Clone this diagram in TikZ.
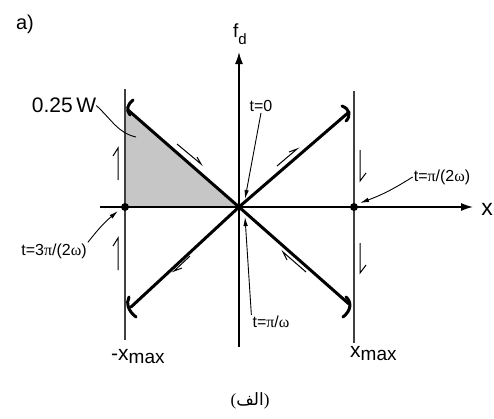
\documentclass[tikz,border=0pt]{standalone}
\usepackage{fontspec}
\setmainfont{Liberation Sans}
\newfontfamily\grk{Liberation Serif}
\newfontfamily\arabicfont[Script=Arabic]{DejaVu Sans}
\TeXXeTstate=1
\usetikzlibrary{arrows.meta}
\begin{document}
\begin{tikzpicture}[x=1pt,y=-1pt,
  axisline/.style={line width=1.5pt,-{Latex[length=12pt,width=8pt]}},
  sideline/.style={line width=1.2pt,draw=black!75},
  diagline/.style={line width=3pt,line cap=round},
  hookline/.style={line width=3pt,line cap=round},
  harp/.style={line width=1pt,line join=miter},
  lead/.style={line width=0.9pt,-{Latex[length=9pt,width=4.5pt]}},
  tlab/.style={font=\fontsize{16}{16}\selectfont, inner sep=1pt},
  biglab/.style={inner sep=0pt},
]
\useasboundingbox (0,0) rectangle (494,418);
\fill[white] (0,0) rectangle (494,418);

% key points
\coordinate (O) at (239,207);
\coordinate (UL) at (128,110);
\coordinate (UR) at (349,112);
\coordinate (LL) at (131,307);
\coordinate (LR) at (349,304);
\coordinate (P1) at (125,207);
\coordinate (P2) at (354,207);

% shaded work area
\fill[gray!45] (125,207) -- (125,110) -- (UL) -- (O) -- cycle;

% side lines and axes
\draw[sideline] (125,89) -- (125,340);
\draw[sideline] (354,91) -- (354,343);
\draw[axisline] (239,347) -- (239,52);
\draw[axisline] (100,207) -- (473,207);

% diagonals
\draw[diagline] (UL) -- (O) -- (LR);
\draw[diagline] (LL) -- (O) -- (UR);

% end hooks
\draw[hookline] (133,100) .. controls (127,105) and (126,110) .. (130,115);
\draw[hookline] (342,106) .. controls (350,109) and (351,116) .. (346,121);
\draw[hookline] (346,297) .. controls (352,302) and (351,311) .. (343,317);
\draw[hookline] (129,297) .. controls (126,303) and (128,311) .. (136,317);

% dots
\fill (P1) circle (4);
\fill (P2) circle (4);

% direction harpoons
\draw[harp] (177,144) -- (201,164) -- (197,157);
\draw[harp] (277,166) -- (297,149) -- (289,152);
\draw[harp] (190,256) -- (174,271) -- (182,268);
\draw[harp] (306,272) -- (283,252) -- (287,260);
\draw[harp] (118,180) -- (118,148) -- (113,156);
\draw[harp] (118,270) -- (118,238) -- (113,246);
\draw[harp] (360,150) -- (360,181) -- (366,173);
\draw[harp] (360,243) -- (360,273) -- (366,265);

% labels
\node[biglab] (alab) at (25,24) {\fontsize{20}{20}\selectfont a)};
\node[biglab,anchor=base west] (fdlab) at (233,37) {\fontsize{19}{19}\selectfont f\raisebox{-7pt}{\fontsize{15}{15}\selectfont d}};
\node[biglab] (xlab) at (487,209) {\fontsize{23}{23}\selectfont x};
\node[biglab] (wlab) at (64,105.5) {\fontsize{21}{21}\selectfont 0.25\,W};
\node[biglab,anchor=base west] (xminlab) at (111,360) {\fontsize{21}{21}\selectfont -x\raisebox{-3.5pt}{\fontsize{19}{19}\selectfont max}};
\node[biglab,anchor=base west] (xmaxlab) at (350,357) {\fontsize{21}{21}\selectfont x\raisebox{-3.5pt}{\fontsize{19}{19}\selectfont max}};

\node[tlab] (t0) at (261,106) {t=0};
\node[tlab] (tq) at (442,177) {t={\grk π}/(2{\grk ω})};
\node[tlab] (t3q) at (54,251) {t=3{\grk π}/(2{\grk ω})};
\node[tlab] (th) at (271,322) {t={\grk π}/{\grk ω}};

\node[biglab] (cap) at (250,401) {\fontsize{17}{17}\selectfont{\grk (}{\arabicfont\beginR الف\endR}{\grk )}};

% leaders
\coordinate (tip0) at (245,199);
\coordinate (tipq) at (360,203);
\coordinate (tip3q) at (118,211);
\coordinate (tiph) at (245,217);
\coordinate (wend) at (136,137);
\draw[lead] (t0.south) -- (tip0);
\draw[lead] (tq.west) to[bend left=6] (tipq);
\draw[lead] (t3q.north east) to[bend left=6] (tip3q);
\draw[lead] (th.north west) -- (tiph);
\draw[line width=0.9pt] (wlab.east) .. controls (112,120) and (118,133) .. (wend);
\end{tikzpicture}
\end{document}
